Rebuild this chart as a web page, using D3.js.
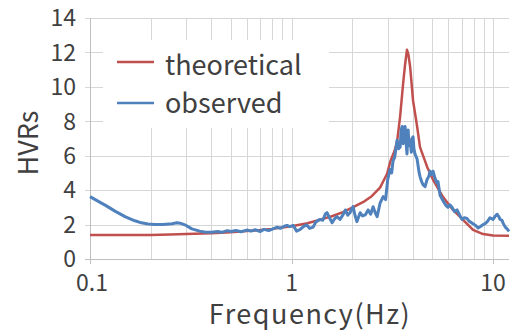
<!DOCTYPE html>
<html><head><meta charset="utf-8">
<script src="https://cdn.jsdelivr.net/npm/d3@7"></script>
<style>
html,body{margin:0;padding:0;background:#fff;}
svg{display:block;}
text{font-family:"Noto Sans CJK JP","Noto Sans",sans-serif;fill:#404040;}
</style></head>
<body>
<svg id="chart" width="512" height="332"></svg>
<script>
// ---- data ----
const seriesNames = ["theoretical", "observed"];
const yTicks = [0, 2, 4, 6, 8, 10, 12, 14];
const xTickLabels = [0.1, 1, 10];

const theoFreq = [0.1, 0.2, 0.25, 0.3, 0.4, 0.5, 0.6, 0.7, 0.8, 0.9, 1.0, 1.2, 1.4, 1.6, 1.8, 2.0, 2.3, 2.5, 2.75, 2.98, 3.1, 3.25, 3.34, 3.46, 3.58, 3.66, 3.74, 3.8, 3.875, 4.01, 4.2, 4.34, 4.71, 5.04, 5.65, 6.33, 7.1, 7.96, 8.92, 10.0, 12.0];
const theoVal  = [1.4, 1.4, 1.42, 1.45, 1.5, 1.55, 1.62, 1.68, 1.75, 1.83, 1.9, 2.08, 2.3, 2.5, 2.72, 2.98, 3.35, 3.65, 4.15, 4.95, 5.7, 6.3, 6.8, 8.3, 10.2, 11.3, 12.15, 11.9, 11.2, 9.2, 7.7, 6.5, 5.35, 4.6, 3.6, 2.85, 2.27, 1.69, 1.45, 1.36, 1.35];

const obsFreq = [0.1, 0.11, 0.12, 0.133, 0.15, 0.167, 0.18, 0.194, 0.21, 0.23, 0.255, 0.27, 0.28, 0.3, 0.32, 0.35, 0.37, 0.4, 0.43, 0.45, 0.48, 0.5, 0.53, 0.56, 0.6, 0.63, 0.66, 0.7, 0.73, 0.77, 0.81, 0.85, 0.88, 0.92, 0.95, 0.98, 1.02, 1.06, 1.1, 1.15, 1.19, 1.23, 1.28, 1.32, 1.34, 1.385, 1.43, 1.47, 1.5, 1.55, 1.59, 1.64, 1.68, 1.74, 1.8, 1.85, 1.9, 1.95, 2.02, 2.07, 2.11, 2.19, 2.25, 2.32, 2.4, 2.47, 2.54, 2.6, 2.66, 2.75, 2.85, 2.93, 3.0, 3.08, 3.14, 3.19, 3.25, 3.34, 3.4, 3.46, 3.5, 3.54, 3.58, 3.62, 3.66, 3.7, 3.74, 3.79, 3.83, 3.88, 3.93, 3.96, 4.01, 4.05, 4.1, 4.2, 4.3, 4.34, 4.42, 4.5, 4.6, 4.7, 4.8, 4.87, 4.95, 5.04, 5.15, 5.27, 5.33, 5.46, 5.58, 5.7, 5.85, 5.98, 6.1, 6.26, 6.45, 6.63, 6.86, 7.02, 7.2, 7.43, 7.6, 7.96, 8.2, 8.43, 8.7, 8.92, 9.13, 9.34, 9.66, 10.0, 10.2, 10.47, 10.7, 10.83, 11.08, 11.2, 11.5, 11.74, 12.0];
const obsVal  = [3.62, 3.35, 3.1, 2.78, 2.45, 2.22, 2.1, 2.03, 2.0, 2.0, 2.05, 2.1, 2.08, 1.95, 1.75, 1.62, 1.57, 1.55, 1.6, 1.55, 1.65, 1.6, 1.66, 1.58, 1.68, 1.62, 1.7, 1.6, 1.72, 1.65, 1.75, 1.85, 1.78, 1.9, 1.95, 1.88, 1.95, 1.62, 1.7, 1.9, 1.98, 1.78, 1.85, 2.15, 2.2, 2.3, 2.25, 2.6, 2.69, 2.35, 2.11, 2.35, 2.46, 2.3, 2.56, 2.85, 2.55, 2.69, 3.04, 2.5, 2.17, 2.69, 2.5, 2.56, 2.85, 2.6, 3.04, 2.7, 2.46, 3.24, 3.62, 3.45, 4.6, 5.2, 5.0, 5.7, 5.9, 6.9, 6.4, 6.5, 7.5, 7.7, 6.7, 7.2, 7.7, 6.8, 6.1, 7.5, 6.6, 6.9, 6.2, 7.0, 7.1, 6.4, 6.1, 5.8, 5.0, 4.8, 4.5, 4.3, 4.2, 4.6, 4.8, 5.1, 4.9, 5.1, 4.7, 4.4, 4.5, 3.7, 3.5, 3.3, 3.1, 3.0, 3.15, 3.0, 2.75, 2.85, 2.5, 2.3, 2.4, 2.35, 2.2, 2.05, 1.95, 1.8, 1.9, 2.0, 2.05, 2.15, 2.4, 2.3, 2.45, 2.6, 2.45, 2.3, 2.25, 2.1, 1.85, 1.75, 1.6];

const colors = ["#c0504d", "#4f81bd"];

// ---- chart ----
const svg = d3.select("#chart");
const pL = 90, pR = 509, pT = 18, pB = 259;
const x = d3.scaleLog().domain([0.1, 12]).range([pL, pR]);
const y = d3.scaleLinear().domain([0, 14]).range([pB, pT]);

const gridX = [];
[0.1, 1, 10].forEach(d => { for (let k = 1; k <= 9; k++) { const v = +(d * k).toFixed(3); if (v <= 12) gridX.push(v); } });

const grid = svg.append("g");
grid.selectAll("line.v").data(gridX.filter(v => v > 0.1)).join("line")
  .attr("x1", d => Math.round(x(d)) + 0.5).attr("x2", d => Math.round(x(d)) + 0.5)
  .attr("y1", pT).attr("y2", pB)
  .attr("stroke", "#d6d6d6").attr("stroke-width", 1);
grid.selectAll("line.h").data(yTicks.filter(v => v > 0)).join("line")
  .attr("x1", pL - 5).attr("x2", pR)
  .attr("y1", d => Math.round(y(d)) + 0.5).attr("y2", d => Math.round(y(d)) + 0.5)
  .attr("stroke", "#d6d6d6").attr("stroke-width", 1);

svg.append("line").attr("x1", pL + 0.5).attr("x2", pL + 0.5).attr("y1", pT).attr("y2", pB)
  .attr("stroke", "#bfbfbf");
svg.append("line").attr("x1", pL - 5).attr("x2", pR).attr("y1", pB + 0.5).attr("y2", pB + 0.5)
  .attr("stroke", "#bfbfbf");
svg.selectAll("line.xt").data(xTickLabels).join("line")
  .attr("x1", d => Math.round(x(d)) + 0.5).attr("x2", d => Math.round(x(d)) + 0.5)
  .attr("y1", pB).attr("y2", pB + 5).attr("stroke", "#bfbfbf");

svg.selectAll("text.yl").data(yTicks).join("text")
  .attr("x", 76).attr("y", d => y(d)).attr("dy", "0.36em")
  .attr("text-anchor", "end").attr("font-size", 23).text(d => d);
svg.selectAll("text.xl").data(xTickLabels).join("text")
  .attr("x", d => x(d) + (d === 0.1 ? 2 : 0)).attr("y", 291)
  .attr("text-anchor", "middle").attr("font-size", 23).text(d => d);

svg.append("text").attr("x", 310).attr("y", 324).attr("text-anchor", "middle")
  .attr("font-size", 27).attr("letter-spacing", 1.5).text("Frequency(Hz)");
svg.append("text").attr("transform", "translate(38,143) rotate(-90)").attr("text-anchor", "middle")
  .attr("font-size", 27).text("HVRs");

svg.append("rect").attr("x", 103).attr("y", 40).attr("width", 226).attr("height", 88).attr("fill", "#fff");

const line = d3.line().x(d => x(d[0])).y(d => y(d[1])).curve(d3.curveLinear);
const theo = theoFreq.map((f, i) => [f, theoVal[i]]);
const obs = obsFreq.map((f, i) => [f, obsVal[i]]);
svg.append("path").datum(theo).attr("d", line).attr("fill", "none")
  .attr("stroke", colors[0]).attr("stroke-width", 2.5).attr("stroke-linejoin", "round");
svg.append("path").datum(obs).attr("d", line).attr("fill", "none")
  .attr("stroke", colors[1]).attr("stroke-width", 3).attr("stroke-linejoin", "round");

const lg = svg.append("g");
const legY = [62, 103];
const legBase = [75, 113];
seriesNames.forEach((name, i) => {
  lg.append("line").attr("x1", 117).attr("x2", 154).attr("y1", legY[i]).attr("y2", legY[i])
    .attr("stroke", colors[i]).attr("stroke-width", 2.5);
  lg.append("text").attr("x", 165).attr("y", legBase[i])
    .attr("font-size", 27).text(name);
});
</script>
</body></html>
